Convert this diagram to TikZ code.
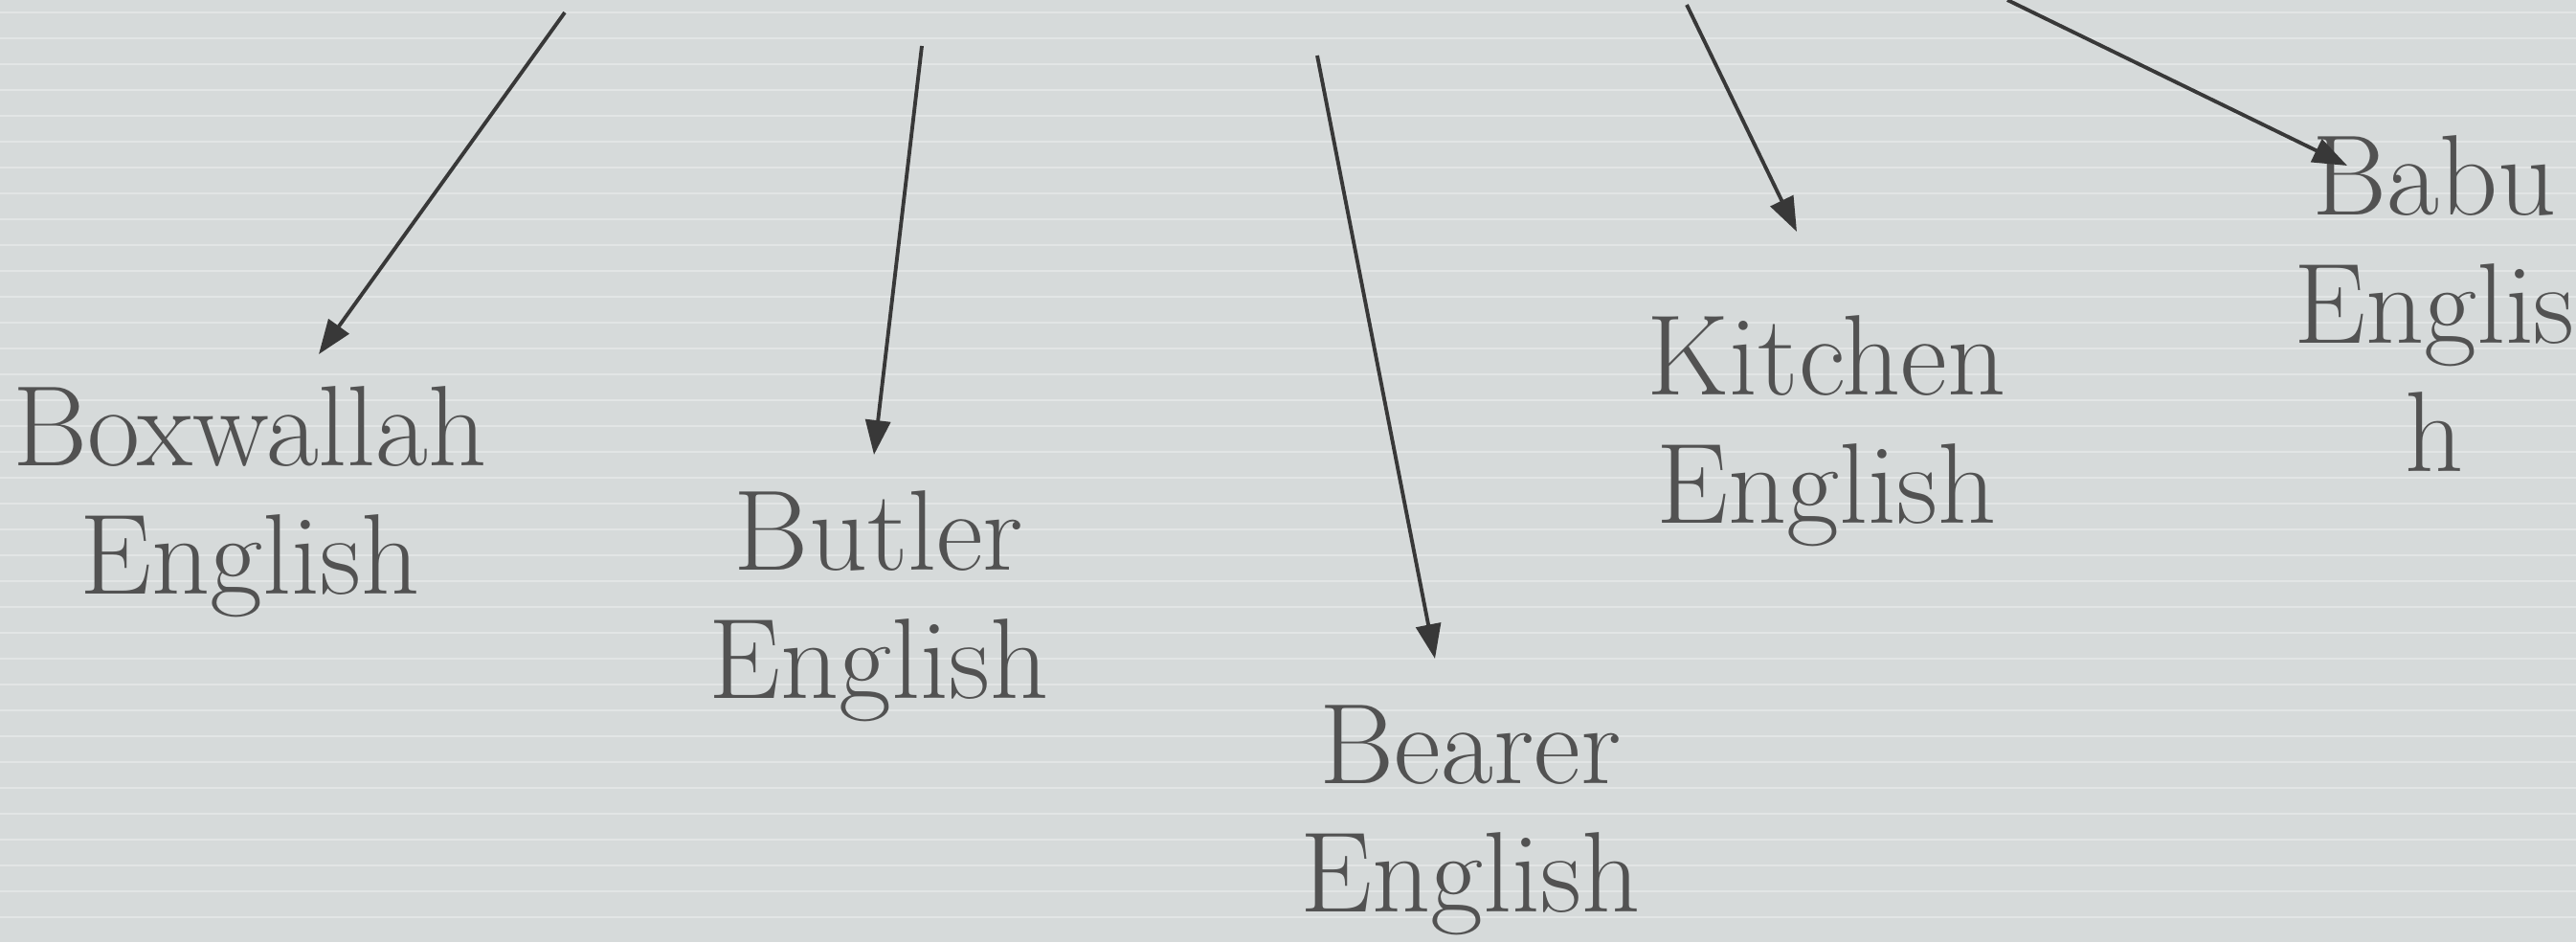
\documentclass[tikz,border=0pt]{standalone}
\usetikzlibrary{arrows.meta}
\definecolor{paper}{RGB}{214,218,218}
\definecolor{stripe}{RGB}{226,229,229}
\definecolor{ink}{RGB}{82,82,82}
\definecolor{arrowgray}{RGB}{56,56,56}
\tikzset{lbl/.style={ink,align=center,anchor=base,inner sep=0pt,font=\fontsize{34}{38.1}\selectfont}}
\tikzset{myarrow/.style={arrowgray,line width=1.1pt,-{Triangle[length=3.6mm,width=2.6mm]}}}

\begin{document}
\begin{tikzpicture}
	\fill[paper] (0,0) rectangle (26.91,-9.84);
	\useasboundingbox (0,0) rectangle (26.91,-9.84);
	\foreach \y in {0.13,0.40,...,9.84}
		\draw[stripe,line width=0.7pt] (0,-\y) -- (26.91,-\y); % paper lines

	% Labels (anchored on the last line)
	\node[lbl] (boxwallah) at (2.61,-6.20) {Boxwallah\\English};
	\node[lbl] (butler) at (9.18,-7.29) {Butler\\English};
	\node[lbl] (bearer) at (15.36,-9.52) {Bearer\\English};
	\node[lbl] (kitchen) at (19.08,-5.46) {Kitchen\\English};
	\node[lbl] (babu) at (25.43,-4.92) {Babu\\Englis\\h};

	% Arrows
	\coordinate (b1) at (5.90,-0.13);
	\coordinate (t1) at (3.33,-3.70);
	\coordinate (b2) at (9.63,-0.48);
	\coordinate (t2) at (9.13,-4.75);
	\coordinate (b3) at (13.76,-0.58);
	\coordinate (t3) at (14.99,-6.88);
	\coordinate (b4) at (17.62,-0.05);
	\coordinate (t4) at (18.77,-2.42);
	\coordinate (b5) at (20.97,0);
	\coordinate (t5) at (24.52,-1.73);
	\draw[myarrow] (b1) -- (t1);
	\draw[myarrow] (b2) -- (t2);
	\draw[myarrow] (b3) -- (t3);
	\draw[myarrow] (b4) -- (t4);
	\draw[myarrow] (b5) -- (t5);
\end{tikzpicture}
\end{document}
